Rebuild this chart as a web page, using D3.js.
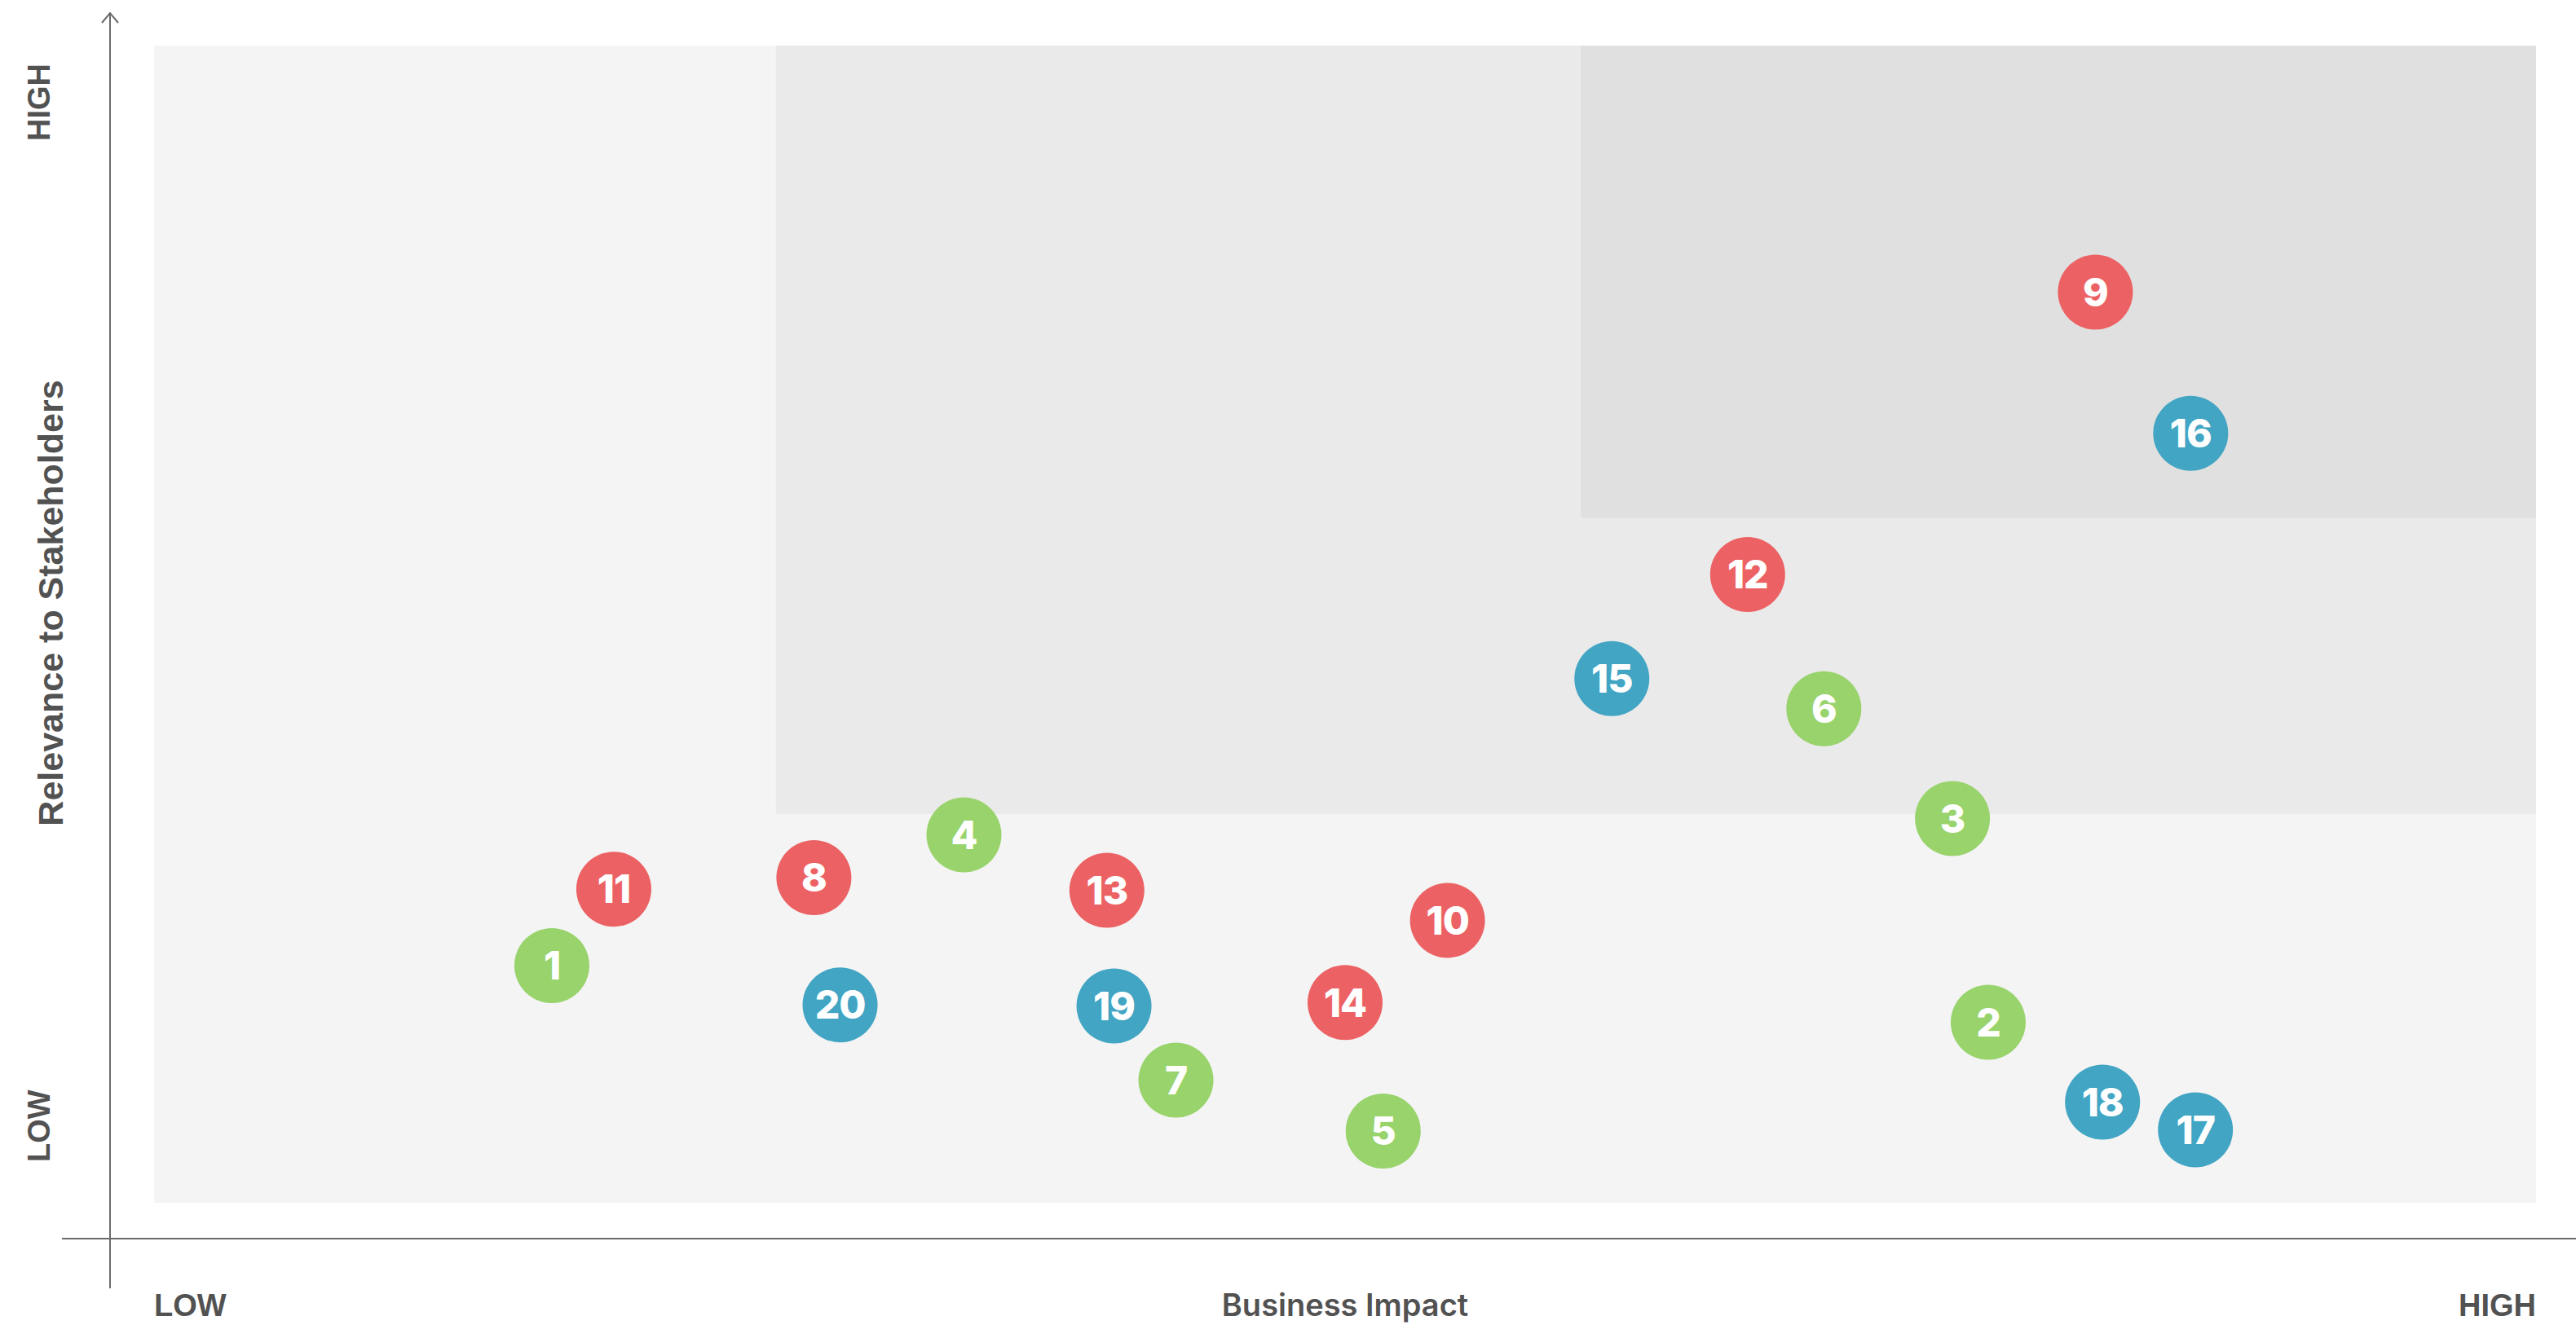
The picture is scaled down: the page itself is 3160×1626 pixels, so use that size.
<!DOCTYPE html>
<html>
<head>
<meta charset="utf-8">
<script src="https://cdn.jsdelivr.net/npm/d3@7"></script>
<style>
  html, body { margin: 0; padding: 0; background: #ffffff; }
  svg { display: block; }
</style>
</head>
<body>
<svg id="chart" width="3160" height="1626"></svg>
<script>
// Materiality matrix: topics plotted by business impact vs. relevance to stakeholders.
const topicIds   = [1, 2, 3, 4, 5, 6, 7, 8, 9, 10, 11, 12, 13, 14, 15, 16, 17, 18, 19, 20];
const impact     = [16.7, 77.0, 75.5, 34.0, 51.6, 70.1, 42.9, 27.7, 81.5, 54.3, 19.3, 66.9, 40.0, 50.0, 61.2, 85.5, 85.7, 81.8, 40.3, 28.8];
const relevance  = [20.5, 15.6, 33.2, 31.8, 6.2, 42.7, 10.6, 28.1, 78.7, 24.4, 27.1, 54.3, 27.0, 17.3, 45.3, 66.5, 6.3, 8.7, 17.0, 17.1];
const topicGroup = [0, 0, 0, 0, 0, 0, 0, 1, 1, 1, 1, 1, 1, 1, 2, 2, 2, 2, 2, 2];
const groupColors = ["#98d36c", "#ec6264", "#42a5c4"];

// Priority zones, each running from its lower-left corner to the top-right of the matrix.
const zoneX0 = [0, 26.1, 59.9];
const zoneY0 = [0, 33.6, 59.2];
const zoneFill = ["#f4f4f4", "#eaeaea", "#e0e0e0"];

const axisEndLabels = ["LOW", "HIGH"];
const xTitle = "Business Impact";
const yTitle = "Relevance to Stakeholders";

const W = 3160, H = 1626;
const plot = { left: 189, right: 3111, top: 56, bottom: 1476 };

const x = d3.scaleLinear().domain([0, 100]).range([plot.left, plot.right]);
const y = d3.scaleLinear().domain([0, 100]).range([plot.bottom, plot.top]);

const svg = d3.select("#chart");
const axisColor = "#6b6b6b";
const textColor = "#525252";
const boldSans = "'Liberation Sans', Arial, sans-serif";

// zones
const zones = zoneX0.map((x0, i) => ({ x0, y0: zoneY0[i], fill: zoneFill[i] }));
svg.append("g").selectAll("rect").data(zones).join("rect")
  .attr("x", d => x(d.x0))
  .attr("y", y(100))
  .attr("width", d => x(100) - x(d.x0))
  .attr("height", d => y(d.y0) - y(100))
  .attr("fill", d => d.fill);

// axes
const axisX = plot.left - 54;      // vertical axis position
const axisY = plot.bottom + 44;    // horizontal axis position
const axes = svg.append("g").attr("stroke", axisColor).attr("stroke-width", 2).attr("fill", "none");
axes.append("line").attr("x1", axisX).attr("x2", axisX).attr("y1", 16).attr("y2", axisY + 61);
axes.append("line").attr("x1", axisX - 59).attr("x2", W).attr("y1", axisY).attr("y2", axisY);
axes.append("path").attr("d", `M${axisX - 10},${28} L${axisX},${16} L${axisX + 10},${28}`)
  .attr("stroke-linejoin", "miter");

// x-axis end labels and title
const lab = svg.append("g").attr("fill", textColor);
lab.append("text").attr("x", x(0)).attr("y", 1615)
  .attr("font-family", boldSans).attr("font-weight", 700)
  .attr("font-size", 38).attr("text-anchor", "start").text(axisEndLabels[0]);
lab.append("text").attr("x", x(100)).attr("y", 1615)
  .attr("font-family", boldSans).attr("font-weight", 700)
  .attr("font-size", 38).attr("text-anchor", "end").text(axisEndLabels[1]);
lab.append("text").attr("x", x(50)).attr("y", 1615)
  .attr("font-family", "Inter, 'Liberation Sans', sans-serif").attr("font-weight", 600)
  .attr("font-size", 38).attr("text-anchor", "middle").text(xTitle);

// y-axis end labels and title (rotated)
const yLabX = 61;
lab.append("text").attr("transform", `translate(${yLabX},${173}) rotate(-90)`)
  .attr("font-family", boldSans).attr("font-weight", 700)
  .attr("font-size", 38).attr("text-anchor", "start").text(axisEndLabels[1]);
lab.append("text").attr("transform", `translate(${yLabX},${1426}) rotate(-90)`)
  .attr("font-family", boldSans).attr("font-weight", 700)
  .attr("font-size", 38).attr("text-anchor", "start").text(axisEndLabels[0]);
lab.append("text").attr("transform", `translate(${77},${740}) rotate(-90)`)
  .attr("font-family", boldSans).attr("font-weight", 700)
  .attr("font-size", 43).attr("text-anchor", "middle").text(yTitle);

// topic bubbles
const topics = topicIds.map((id, i) => ({ id, x: impact[i], y: relevance[i], g: topicGroup[i] }));
const r = 46;
const node = svg.append("g").selectAll("g").data(topics).join("g")
  .attr("transform", d => `translate(${x(d.x)},${y(d.y)})`);
node.append("circle").attr("r", r).attr("fill", d => groupColors[d.g]);
node.append("text")
  .attr("text-anchor", "middle")
  .attr("dy", "0.36em")
  .attr("fill", "#ffffff")
  .attr("font-family", "Inter, 'Open Sans', sans-serif")
  .attr("font-weight", 800)
  .attr("font-size", 48)
  .attr("letter-spacing", -1)
  .text(d => d.id);
</script>
</body>
</html>
